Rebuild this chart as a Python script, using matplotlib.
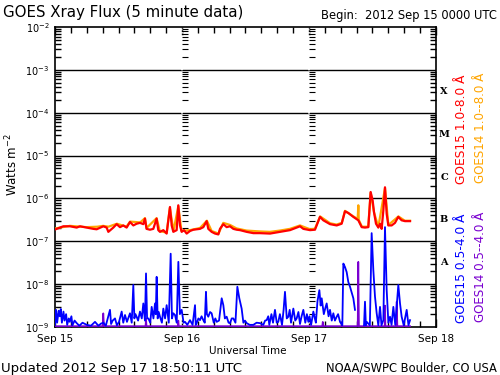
import numpy as np
import matplotlib
matplotlib.use("Agg")
from matplotlib import pyplot as plt
from matplotlib import ticker, transforms

# hours since 2012 Sep 15 00:00 UTC, log10 flux (W m^-2)
g15_long_t = [0.1, 1.57, 2.83, 4.1, 4.72, 5.98, 7.24, 7.87, 9.13, 9.76, 10.08, 11.02,
              11.65, 12.28, 12.91, 13.54, 14.17, 14.8, 15.43, 16.06, 16.69, 17.0, 17.3,
              17.95, 18.58, 19.2, 19.52, 19.84, 20.47, 21.1, 21.73, 22.05, 22.36, 22.99,
              23.3, 23.62, 23.94, 24.38, 24.88, 25.51, 26.14, 27.4, 28.03, 28.66, 28.97,
              29.6, 30.24, 30.87, 31.18, 31.81, 32.44, 33.07, 33.7, 34.33, 34.96, 36.22,
              37.48, 38.74, 40.63, 42.52, 44.41, 46.3, 46.93, 48.19, 49.13, 50.08, 50.7,
              51.97, 53.23, 54.17, 54.8, 55.43, 56.37, 57.32, 57.96, 58.58, 59.21, 59.65,
              60.03, 60.28, 60.66, 61.1, 61.42, 61.73, 62.05, 62.36, 62.68, 62.99, 63.62,
              64.25, 64.87, 65.5, 66.14, 67.09]
g15_long = [-6.72, -6.65, -6.65, -6.68, -6.65, -6.68, -6.71, -6.72, -6.65, -6.68, -6.78, -6.68,
            -6.60, -6.67, -6.63, -6.68, -6.55, -6.63, -6.59, -6.57, -6.60, -6.47, -6.71,
            -6.73, -6.71, -6.47, -6.74, -6.78, -6.74, -6.82, -6.20, -6.63, -6.78, -6.74,
            -6.16, -6.63, -6.78, -6.74, -6.82, -6.76, -6.73, -6.71, -6.67, -6.53, -6.71,
            -6.78, -6.82, -6.84, -6.71, -6.60, -6.67, -6.65, -6.71, -6.73, -6.74, -6.78,
            -6.81, -6.81, -6.82, -6.78, -6.74, -6.65, -6.71, -6.74, -6.73, -6.43, -6.51,
            -6.60, -6.63, -6.59, -6.30, -6.34, -6.43, -6.51, -6.67, -6.68, -6.67, -5.85,
            -6.05, -6.32, -6.59, -6.68, -6.59, -6.71, -6.28, -5.74, -6.36, -6.63, -6.63,
            -6.57, -6.43, -6.51, -6.53, -6.53]

g14_long_t = [0.1, 2.8, 6.0, 8.0, 9.1, 10.1, 11.7, 13.5, 14.2, 16.1, 17.0, 17.3, 19.2, 19.8,
              21.1, 21.7, 22.4, 23.3, 23.9, 25.5, 27.4, 28.7, 29.6, 30.9, 31.8, 33.1, 34.3,
              36.2, 38.7, 40.6, 42.5, 44.4, 46.3, 48.2, 49.1, 50.1, 52.0, 53.2, 54.2, 54.8,
              56.4, 57.2, 57.32, 57.4, 58.0, 59.2, 59.65, 60.3, 61.1, 62.36, 63.0, 64.9,
              66.1, 67.1]
g14_long = [-6.70, -6.64, -6.67, -6.66, -6.64, -6.66, -6.59, -6.66, -6.54, -6.56, -6.46,
            -6.69, -6.46, -6.76, -6.80, -6.22, -6.76, -6.18, -6.76, -6.74, -6.69, -6.52,
            -6.76, -6.82, -6.57, -6.62, -6.70, -6.75, -6.77, -6.78, -6.75, -6.71, -6.63,
            -6.72, -6.71, -6.42, -6.58, -6.61, -6.57, -6.29, -6.42, -6.48, -6.16, -6.50,
            -6.66, -6.66, -5.87, -6.33, -6.67, -5.76, -6.62, -6.42, -6.52, -6.52]

g15_short_t = [0.0, 0.2, 0.4, 0.7, 0.9, 1.1, 1.3, 1.6, 1.8, 2.1, 2.3, 2.6, 2.8, 3.1, 3.3,
               3.7, 4.1, 4.6, 5.2, 6.0, 6.8, 7.56, 8.2, 8.7, 9.13, 9.6, 10.39, 10.6, 10.9,
               11.34, 11.7, 12.1, 12.6, 12.9, 13.23, 13.6, 14.17, 14.5, 14.8, 15.0, 15.2,
               15.43, 15.7, 16.06, 16.4, 16.69, 17.0, 17.2, 17.4, 17.64, 18.0, 18.27, 18.6,
               18.9, 19.05, 19.21, 19.4, 19.6, 19.84, 20.2, 20.47, 20.8, 21.1, 21.5, 21.86,
               22.1, 22.36, 22.68, 23.0, 23.31, 23.6, 23.94, 24.3, 24.57, 25.0, 25.51, 26.0,
               26.46, 26.6, 26.77, 27.1, 27.4, 27.7, 28.03, 28.3, 28.53, 28.7, 28.97, 29.3,
               29.6, 30.0, 30.3, 30.55, 31.0, 31.5, 31.81, 32.1, 32.44, 32.8, 33.07, 33.4,
               33.7, 34.1, 34.46, 34.83, 35.27, 35.6, 35.9, 36.22, 36.8, 37.48, 38.1, 38.74,
               39.37, 39.7, 40.0, 40.3, 40.5, 40.9, 41.2, 41.57, 41.9, 42.2, 42.5, 42.9,
               43.2, 43.46, 43.8, 44.1, 44.35, 44.6, 45.04, 45.4, 45.67, 46.0, 46.3, 46.6,
               46.93, 47.3, 47.6, 47.88, 48.1, 48.4, 48.82, 49.1, 49.3, 49.6, 49.96, 50.2,
               50.4, 50.8, 51.1, 51.34, 51.7, 51.97, 52.3, 52.6, 52.9, 53.23, 53.5, 53.86,
               54.3, 54.49, 54.8, 55.12, 55.43, 55.75, 56.38, 56.69, 57.5, 58.4, 58.58,
               58.75, 58.9, 59.5, 59.84, 60.16, 60.47, 60.79, 61.1, 61.42, 61.7, 62.05,
               62.36, 62.68, 63.0, 63.31, 63.6, 63.94, 64.3, 64.88, 65.2, 65.51, 65.9,
               66.46, 66.8, 67.09]
g15_short = [-8.95, -8.60, -8.90, -8.62, -8.75, -8.58, -8.90, -8.64, -8.85, -8.70, -8.95,
             -8.80, -8.88, -8.75, -8.96, -8.85, -8.91, -8.97, -8.90, -8.95, -8.97, -8.88,
             -8.97, -8.92, -8.90, -8.97, -8.60, -8.93, -8.85, -8.80, -8.96, -8.88, -8.64,
             -8.90, -8.72, -8.88, -8.68, -8.90, -8.02, -8.80, -8.70, -8.76, -8.85, -8.64,
             -8.80, -8.45, -8.85, -7.75, -8.80, -8.80, -8.90, -8.53, -8.80, -8.45, -8.70,
             -7.83, -8.80, -8.65, -8.76, -8.90, -8.57, -8.80, -8.49, -8.90, -7.29, -8.80,
             -8.68, -8.72, -8.90, -7.48, -8.70, -8.60, -8.90, -8.88, -8.95, -8.84, -8.95,
             -8.49, -8.95, -8.91, -8.80, -8.84, -8.75, -8.84, -8.90, -8.18, -8.70, -8.76,
             -8.65, -8.68, -8.90, -8.80, -8.88, -8.85, -8.33, -8.49, -8.80, -8.76, -8.90,
             -8.91, -8.80, -8.80, -8.90, -8.06, -8.33, -8.57, -8.90, -8.85, -8.91, -8.95,
             -8.95, -8.90, -8.91, -8.95, -8.85, -8.84, -8.75, -8.95, -8.70, -8.90, -8.60,
             -8.90, -8.88, -8.70, -8.95, -8.60, -8.18, -8.80, -8.76, -8.60, -8.90, -8.57,
             -8.85, -8.80, -8.65, -8.93, -8.75, -8.60, -8.90, -8.70, -8.88, -8.75, -8.95,
             -8.64, -8.80, -8.90, -8.40, -8.14, -8.50, -8.33, -8.70, -8.55, -8.45, -8.75,
             -8.60, -8.85, -8.68, -8.85, -8.76, -8.70, -8.88, -8.96, -7.52, -7.60, -7.72,
             -7.95, -8.06, -8.33, -8.60, np.nan, -8.96, -8.41, -8.96, -8.88, -8.96, -6.81,
             -7.68, -8.29, -8.68, -8.96, -8.53, -8.96, -8.84, -6.67, -8.14, -8.90, -8.76,
             -8.95, -8.53, -8.95, -8.02, -8.45, -8.76, -8.96, -8.60, -8.96, -8.84]

g14_short_t = [0.0, 9.0, 9.13, 9.26, 17.1, 17.2, 17.3, 23.2, 23.31, 23.4, 50.5, 50.6, 50.7,
               57.2, 57.32, 57.44, 62.3, 62.36, 62.45, 64.45, 64.57, 64.7, 67.1]
g14_short = [-8.98, -8.98, -8.68, -8.98, -8.98, -8.80, -8.98, -8.98, -8.85, -8.98, -8.98,
             -8.88, -8.98, -8.98, -7.48, -8.98, -8.98, -8.50, -8.98, -8.98, -8.41, -8.98,
             -8.98]

day_labels = ["Sep 15", "Sep 16", "Sep 17", "Sep 18"]
decades = [-9, -8, -7, -6, -5, -4, -3, -2]
classes = ["A", "B", "C", "M", "X"]

RED, ORANGE, BLUE, PURPLE = "#ff0000", "#ffa500", "#0000ff", "#7a00d0"

fig = plt.figure(figsize=(5, 3.75), dpi=100)
ax = fig.add_axes([0.11, 0.128, 0.762, 0.80])

ax.plot(g14_short_t, 10 ** np.array(g14_short), color=PURPLE, lw=1.2, zorder=3)
ax.plot(g15_short_t, 10 ** np.array(g15_short), color=BLUE, lw=1.3, zorder=4)
ax.plot(g14_long_t, 10 ** np.array(g14_long), color=ORANGE, lw=1.6, zorder=5)
ax.plot(g15_long_t, 10 ** np.array(g15_long), color=RED, lw=1.6, zorder=6)

ax.set_yscale("log")
ax.set_ylim(1e-9, 1e-2)
ax.set_xlim(0, 72)

# decade grid lines
for d in decades[1:-1]:
    ax.axhline(10.0 ** d, color="black", lw=1, zorder=2)

# day separators with their own minor ticks
minor_vals = [m * 10.0 ** d for d in decades[:-1] for m in range(2, 10)]
for day in (24, 48):
    ax.axvline(day, color="white", lw=1.2, ls=(0, (1, 1)), zorder=2.5)
    ax.plot([day + 0.6] * len(minor_vals), minor_vals, ls="none", marker="_",
            ms=4, mew=0.8, color="black", zorder=2.6)

ax.set_yticks([10.0 ** d for d in decades])
ax.set_yticklabels(["$10^{%d}$" % d for d in decades], fontsize=7)
ax.yaxis.set_minor_locator(ticker.LogLocator(base=10, subs=range(2, 10), numticks=20))
ax.yaxis.set_minor_formatter(ticker.NullFormatter())

ax.set_xticks([0, 24, 48, 72])
ax.set_xticklabels(day_labels, fontsize=7.5)
ax.xaxis.set_minor_locator(ticker.MultipleLocator(3))

ax.tick_params(which="both", direction="in", top=True, right=True, width=1)
ax.tick_params(which="major", axis="x", length=6, pad=5)
ax.tick_params(which="major", axis="y", length=0, pad=4)
ax.tick_params(which="minor", length=4)
for s in ax.spines.values():
    s.set_linewidth(1.2)

# flare class letters
trans = transforms.blended_transform_factory(ax.transAxes, ax.transData)
for i, c in enumerate(classes):
    ax.text(1.021, 10 ** (-7.5 + i), c, transform=trans, fontsize=7,
            fontweight="bold", family="DejaVu Serif", ha="center", va="center")

fig.text(0.006, 0.966, "GOES Xray Flux (5 minute data)", fontsize=10.8, va="center")
fig.text(0.994, 0.96, "Begin:  2012 Sep 15 0000 UTC", fontsize=8.3, ha="right", va="center")
fig.text(0.024, 0.56, "Watts m$^{-2}$", fontsize=8.5, rotation=90, ha="center", va="center")
fig.text(0.496, 0.064, "Universal Time", fontsize=7.5, ha="center", va="center")
fig.text(0.002, 0.018, "Updated 2012 Sep 17 18:50:11 UTC", fontsize=9.6, va="center")
fig.text(0.994, 0.018, "NOAA/SWPC Boulder, CO USA", fontsize=8.3, ha="right", va="center")

fig.text(0.923, 0.655, "GOES15 1.0-8.0 Å", color=RED, fontsize=8.8, rotation=90,
         ha="center", va="center")
fig.text(0.96, 0.658, "GOES14 1.0--8.0 Å", color=ORANGE, fontsize=8.6, rotation=90,
         ha="center", va="center")
fig.text(0.923, 0.285, "GOES15 0.5-4.0 Å", color=BLUE, fontsize=8.8, rotation=90,
         ha="center", va="center")
fig.text(0.96, 0.288, "GOES14 0.5--4.0 Å", color=PURPLE, fontsize=8.6, rotation=90,
         ha="center", va="center")

fig.savefig("out.png", dpi=100)
